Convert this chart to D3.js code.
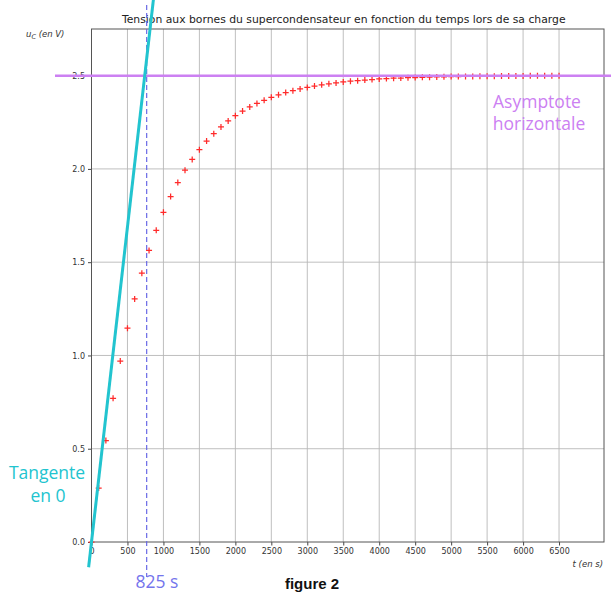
<!DOCTYPE html>
<html>
<head>
<meta charset="utf-8">
<script src="https://cdn.jsdelivr.net/npm/d3@7"></script>
<style>
    body { margin: 0; background: #fff; }
    svg { display: block; }
</style>
</head>
<body>
<svg id="chart" width="611" height="593"></svg>
<script>
// measured points (t in s, uC in V)
const times = [0, 100, 200, 300, 400, 500, 600, 700, 800, 900,
    1000, 1100, 1200, 1300, 1400, 1500, 1600, 1700, 1800, 1900,
    2000, 2100, 2200, 2300, 2400, 2500, 2600, 2700, 2800, 2900,
    3000, 3100, 3200, 3300, 3400, 3500, 3600, 3700, 3800, 3900,
    4000, 4100, 4200, 4300, 4400, 4500, 4600, 4700, 4800, 4900,
    5000, 5100, 5200, 5300, 5400, 5500, 5600, 5700, 5800, 5900,
    6000, 6100, 6200, 6300, 6400, 6500];
const voltages = [0, 0.289, 0.544, 0.770, 0.970, 1.146, 1.303, 1.441, 1.563, 1.671,
    1.767, 1.852, 1.927, 1.993, 2.051, 2.103, 2.149, 2.189, 2.225, 2.257,
    2.285, 2.310, 2.332, 2.351, 2.368, 2.384, 2.397, 2.409, 2.419, 2.429,
    2.437, 2.444, 2.451, 2.456, 2.461, 2.466, 2.470, 2.473, 2.476, 2.479,
    2.482, 2.484, 2.486, 2.487, 2.489, 2.490, 2.491, 2.492, 2.493, 2.494,
    2.495, 2.495, 2.496, 2.496, 2.497, 2.497, 2.497, 2.498, 2.498, 2.498,
    2.498, 2.499, 2.499, 2.499, 2.499, 2.499];

const xTicks = [0, 500, 1000, 1500, 2000, 2500, 3000, 3500, 4000, 4500, 5000, 5500, 6000, 6500];
const yTicks = [0, 0.5, 1.0, 1.5, 2.0, 2.5];

const asymptote = 2.5;
const tangentHit = 740;   // where the hand drawn tangent meets 2.5 V
const dashedT = 767;      // hand drawn dashed marker
const tauLabel = "825 s";

const svg = d3.select("#chart");
const plotL = 91.5, plotR = 604, plotT = 29, plotB = 542;

const x = d3.scaleLinear().domain([0, 7125]).range([plotL, plotR]);
const y = d3.scaleLinear().domain([0, 2.75]).range([plotB, plotT]);

// grid
svg.append("g")
    .selectAll("line")
    .data(xTicks.slice(1))
    .enter()
    .append("line")
    .attr("x1", d => x(d)).attr("x2", d => x(d))
    .attr("y1", plotT).attr("y2", plotB)
    .attr("stroke", "#b8b8b8")
    .attr("stroke-width", 0.9);

svg.append("g")
    .selectAll("line")
    .data(yTicks.slice(1))
    .enter()
    .append("line")
    .attr("x1", plotL).attr("x2", plotR)
    .attr("y1", d => y(d)).attr("y2", d => y(d))
    .attr("stroke", "#b8b8b8")
    .attr("stroke-width", 0.9);

// axes
let xAxis = svg.append("g")
    .attr("transform", `translate(0,${plotB})`)
    .call(d3.axisBottom(x).tickValues(xTicks).tickSize(3.5).tickPadding(3).tickFormat(d3.format("d")));
let yAxis = svg.append("g")
    .attr("transform", `translate(${plotL},0)`)
    .call(d3.axisLeft(y).tickValues(yTicks).tickSize(3.5).tickPadding(3).tickFormat(d3.format(".1f")));

[xAxis, yAxis].forEach(a => {
    a.select(".domain").remove();
    a.selectAll("line").attr("stroke", "#444");
    a.selectAll("text")
        .attr("font-family", "DejaVu Sans")
        .attr("font-size", 8)
        .attr("fill", "#333");
});

// frame
svg.append("rect")
    .attr("x", plotL).attr("y", plotT)
    .attr("width", plotR - plotL).attr("height", plotB - plotT)
    .attr("fill", "none")
    .attr("stroke", "#555")
    .attr("stroke-width", 1);

// title and axis labels
svg.append("text")
    .attr("x", (plotL + plotR) / 2 - 4)
    .attr("y", 23)
    .attr("text-anchor", "middle")
    .attr("font-family", "DejaVu Sans")
    .attr("font-size", 10.8)
    .attr("fill", "#222")
    .text("Tension aux bornes du supercondensateur en fonction du temps lors de sa charge");

let uLabel = svg.append("text")
    .attr("x", 26).attr("y", 37)
    .attr("font-family", "DejaVu Sans")
    .attr("font-style", "italic")
    .attr("font-size", 8.5)
    .attr("fill", "#333");
uLabel.append("tspan").text("u");
uLabel.append("tspan").attr("font-size", 6.5).attr("dy", 2).text("C");
uLabel.append("tspan").attr("dy", -2).text(" (en V)");

svg.append("text")
    .attr("x", 603).attr("y", 567)
    .attr("text-anchor", "end")
    .attr("font-family", "DejaVu Sans")
    .attr("font-style", "italic")
    .attr("font-size", 8.5)
    .attr("fill", "#333")
    .text("t (en s)");

// data points
const pts = times.map((t, i) => ({ t: t, u: voltages[i] }));
svg.append("g")
    .selectAll("path")
    .data(pts)
    .enter()
    .append("path")
    .attr("d", d => `M${x(d.t) - 3},${y(d.u)}h6M${x(d.t)},${y(d.u) - 3}v6`)
    .attr("stroke", "#ff2a2a")
    .attr("stroke-width", 1.25);

// asymptote
svg.append("line")
    .attr("x1", 55).attr("x2", 611)
    .attr("y1", y(asymptote)).attr("y2", y(asymptote))
    .attr("stroke", "#cc80f2")
    .attr("stroke-width", 2.5);

// dashed marker
svg.append("line")
    .attr("x1", x(dashedT)).attr("x2", x(dashedT))
    .attr("y1", 5).attr("y2", 577)
    .attr("stroke", "#6a6ae6")
    .attr("stroke-width", 1.2)
    .attr("stroke-dasharray", "5,3");

// tangent at origin
const slope = asymptote / tangentHit;
svg.append("line")
    .attr("x1", x(-40)).attr("y1", y(-40 * slope))
    .attr("x2", x(900)).attr("y2", y(900 * slope))
    .attr("stroke", "#22c4cf")
    .attr("stroke-width", 3);

// annotations
const note = (txt, px, py, color) => svg.append("text")
    .attr("x", px).attr("y", py)
    .attr("text-anchor", "middle")
    .attr("font-family", "Open Sans")
    .attr("font-size", 17.5)
    .attr("fill", color)
    .text(txt);

note("Tangente", 47, 479, "#22c4cf");
note("en 0", 48, 502, "#22c4cf");
note(tauLabel, 157, 588, "#7474ec");
note("Asymptote", 537, 108, "#cc80f2");
note("horizontale", 539, 130, "#cc80f2");

svg.append("text")
    .attr("x", 312).attr("y", 589)
    .attr("text-anchor", "middle")
    .attr("font-family", "Liberation Sans")
    .attr("font-weight", "bold")
    .attr("font-size", 15)
    .attr("fill", "#111")
    .text("figure 2");
</script>
</body>
</html>
